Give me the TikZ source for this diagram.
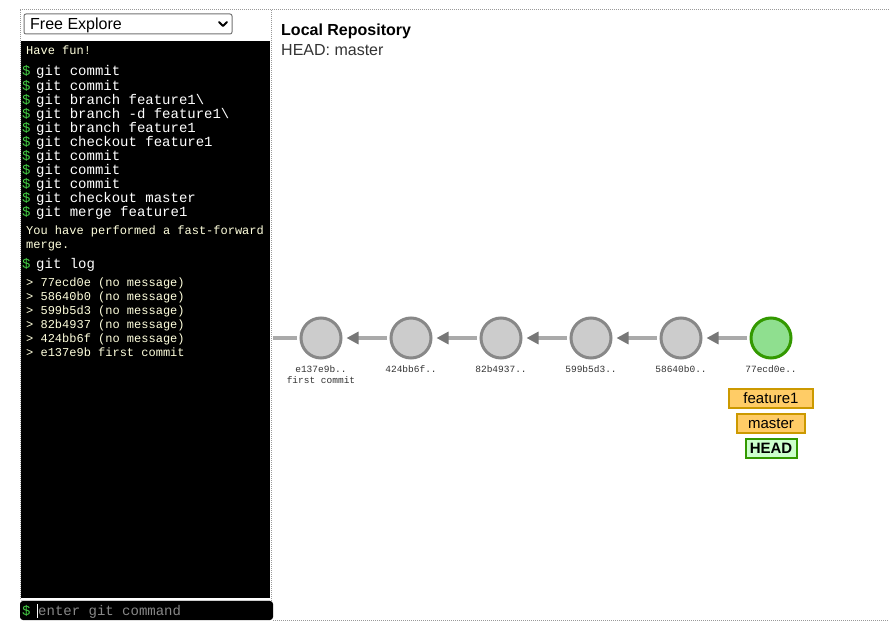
\documentclass[tikz,border=0pt]{standalone}
\usepackage{fontspec}
\setmainfont{Liberation Sans}
\newfontfamily\termfont{Liberation Mono}
\usetikzlibrary{arrows.meta}
\definecolor{frameg}{HTML}{999999}
\definecolor{cfill}{HTML}{CCCCCC}
\definecolor{cdraw}{HTML}{888888}
\definecolor{gfill}{HTML}{8FDF8F}
\definecolor{gdraw}{HTML}{339900}
\definecolor{linkc}{HTML}{AAAAAA}
\definecolor{tipc}{HTML}{777777}
\definecolor{bfill}{HTML}{FFCC66}
\definecolor{bdraw}{HTML}{CC9900}
\definecolor{hfill}{HTML}{CCFFCC}
\definecolor{promptc}{HTML}{44CC44}
\definecolor{outc}{HTML}{FFFFDD}
\definecolor{labc}{HTML}{333333}
\definecolor{hintc}{HTML}{888888}
\tikzset{
  x=1pt, y=-1pt,
  dotframe/.style={frameg, line width=1pt, dash pattern=on 1pt off 1pt},
  commit/.style={circle, minimum size=40pt, inner sep=0pt, line width=3pt, draw=cdraw, fill=cfill},
  headcommit/.style={commit, draw=gdraw, fill=gfill},
  link/.style={linkc, line width=3.5pt, shorten >=4pt, shorten <=3pt,
    -{Triangle[length=12pt,width=12pt,color=tipc]}},
  plainlink/.style={linkc, line width=3.5pt, shorten >=3pt},
  clabel/.style={font=\termfont\fontsize{9.5}{11}\selectfont, text=labc, inner sep=0pt, anchor=base},
  branch/.style={draw=bdraw, fill=bfill, line width=2pt, font=\fontsize{15}{17}\selectfont, inner sep=0pt, minimum height=19pt, text=black},
  headbox/.style={draw=gdraw, fill=hfill, line width=2pt, font=\bfseries\fontsize{15}{17}\selectfont, inner sep=0pt, minimum height=19pt, text=black},
  cmd/.style={font=\termfont\fontsize{14}{15}\selectfont, text=white, inner sep=0pt, anchor=base west},
  prompt/.style={font=\termfont\fontsize{14}{15}\selectfont, text=promptc, inner sep=0pt, anchor=base west},
  outtxt/.style={font=\termfont\fontsize{12}{14}\selectfont, text=outc, inner sep=0pt, anchor=base west},
}
\begin{document}
\begin{tikzpicture}
\useasboundingbox[fill=white] (0,0) rectangle (889,634);
% frame
\draw[dotframe] (20,10) -- (889,10);
\draw[dotframe] (20,10) -- (20,600);
\draw[dotframe] (271,10) -- (271,620);
\draw[dotframe] (273,620) -- (889,620);
% dropdown
\draw[draw=black!55, fill=white, line width=1pt, rounded corners=2pt] (24,14) rectangle (232,34);
\node[font=\fontsize{16}{18}\selectfont, anchor=base west, inner sep=0pt] (dd) at (30,30) {Free Explore};
\draw[line width=2pt, line cap=round, line join=round] (219,22) -- (223,26) -- (227,22);
% terminal
\fill[black] (21,41) rectangle (270,598);
\node[outtxt] (o1) at (26,55) {Have fun!};
\foreach \i/\t in {0/{git commit},1/{git commit},2/{git branch feature1\textbackslash},3/{git branch -d feature1\textbackslash},4/{git branch feature1},5/{git checkout feature1},6/{git commit},7/{git commit},8/{git commit},9/{git checkout master},10/{git merge feature1}}{
  \node[prompt] (p\i) at (22,{76+14*\i}) {\$};
  \node[cmd] (t\i) at (36,{76+14*\i}) {\t};
}
\node[outtxt] (o2) at (26,234) {You have performed a fast-forward};
\node[outtxt] (o3) at (26,248) {merge.};
\node[prompt] (p11) at (22,268) {\$};
\node[cmd] (t11) at (36,268) {git log};
\foreach \i/\t in {0/{> 77ecd0e (no message)},1/{> 58640b0 (no message)},2/{> 599b5d3 (no message)},3/{> 82b4937 (no message)},4/{> 424bb6f (no message)},5/{> e137e9b first commit}}{
  \node[outtxt] (l\i) at (26,{286+14*\i}) {\t};
}
% input
\fill[black, rounded corners=3pt] (20,601) rectangle (273,620);
\draw[white!80!black, line width=0.8pt] (21,600.5) -- (270,600.5);
\node[prompt] (ip) at (22,615) {\$};
\draw[white, line width=1pt] (37,604) -- (37,618);
\node[font=\termfont\fontsize{14}{15}\selectfont, text=hintc, inner sep=0pt, anchor=base west] (hint) at (38,615) {enter git command};
% repository header
\node[font=\bfseries\fontsize{16}{18}\selectfont, anchor=base west, inner sep=0pt] (title) at (281,36) {Local Repository};
\node[font=\fontsize{16}{18}\selectfont, anchor=base west, inner sep=0pt, text=labc] (headtxt) at (281,56) {HEAD: master};
% commits
\coordinate (c0) at (273,338);
\node[commit] (c1) at (321,338) {};
\node[commit] (c2) at (411,338) {};
\node[commit] (c3) at (501,338) {};
\node[commit] (c4) at (591,338) {};
\node[commit] (c5) at (681,338) {};
\node[headcommit] (c6) at (771,338) {};
\draw[plainlink] (c0) -- (c1);
\draw[link] (c2) -- (c1);
\draw[link] (c3) -- (c2);
\draw[link] (c4) -- (c3);
\draw[link] (c5) -- (c4);
\draw[link] (c6) -- (c5);
\node[clabel] (n1) at (321,372) {e137e9b..};
\node[clabel] (n1b) at (321,383) {first commit};
\node[clabel] (n2) at (411,372) {424bb6f..};
\node[clabel] (n3) at (501,372) {82b4937..};
\node[clabel] (n4) at (591,372) {599b5d3..};
\node[clabel] (n5) at (681,372) {58640b0..};
\node[clabel] (n6) at (771,372) {77ecd0e..};
% branches
\node[branch, minimum width=84pt] (bf) at (771,398.5) {feature1};
\node[branch, minimum width=68pt] (bm) at (771,423.5) {master};
\node[headbox, minimum width=51pt] (bh) at (771,448) {HEAD};
\end{tikzpicture}
\end{document}
